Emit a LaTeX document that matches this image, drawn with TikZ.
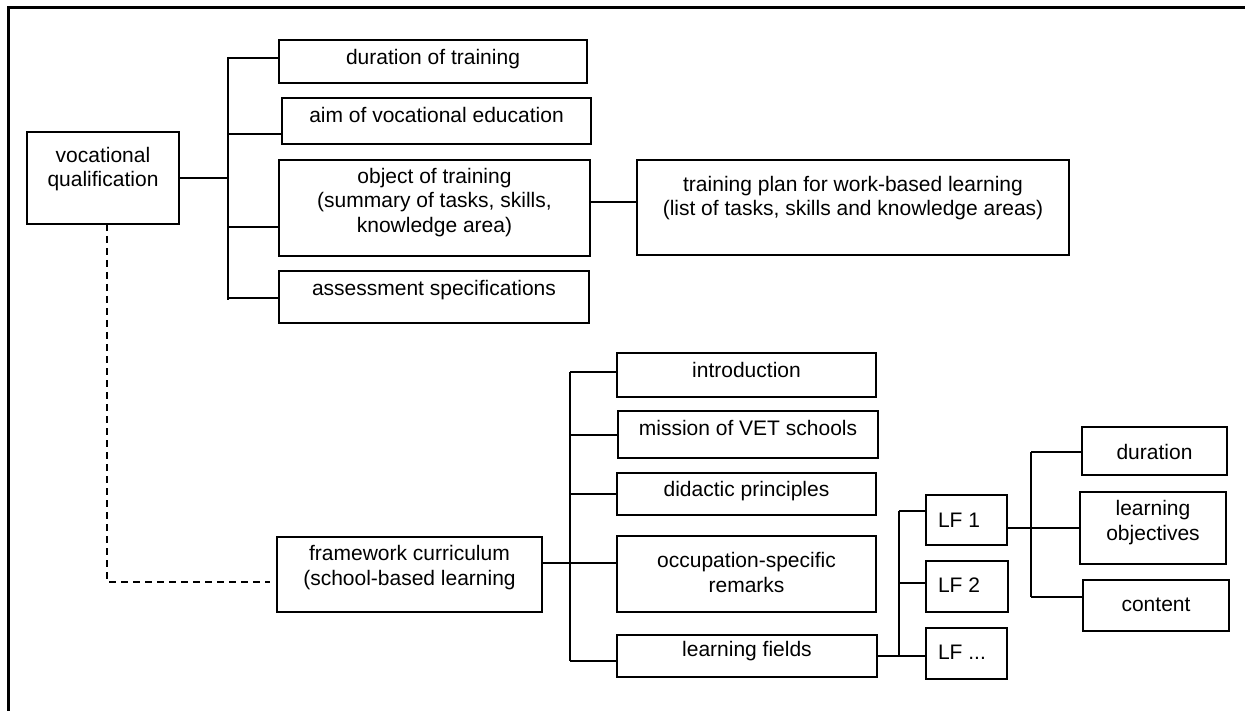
\documentclass[tikz,border=0pt]{standalone}
\usepackage{fontspec}
\setmainfont{Liberation Sans}
\tikzset{
  bx/.style={draw, line width=2.1pt, inner sep=0pt, outer sep=0pt},
  conn/.style={line width=2.1pt},
  frameline/.style={line width=3pt},
  dashedconn/.style={line width=2.1pt, dash pattern=on 7pt off 5pt},
}
\newcommand{\cbox}[4]{\parbox[c][#2pt][t]{#1pt}{\centering\rule{0pt}{#3pt}#4}}
\newcommand{\lbox}[4]{\parbox[c][#2pt][t]{#1pt}{\raggedright\hspace*{12pt}\rule{0pt}{#3pt}#4}}
\begin{document}
\begin{tikzpicture}[x=1pt,y=-1pt, every node/.style={font=\fontsize{21}{24.5}\selectfont}]
\useasboundingbox (0,0) rectangle (1245,711);
% frame
\coordinate (f0) at (8,8);
\coordinate (f1) at (1245,8);
\coordinate (f2) at (8,711);
\draw[frameline] (f1) -- (f0) -- (f2);

% upper part
\node[bx] (vq) at (103,178) {\cbox{152}{92}{30.5}{vocational\\qualification}};
\node[bx] (dot) at (433,61.5) {\cbox{308}{43}{24.5}{duration of training}};
\node[bx] (aim) at (436.5,121) {\cbox{309}{46}{24.5}{aim of vocational education}};
\node[bx] (obj) at (434.5,208) {\cbox{311}{96}{23.5}{object of training\\(summary of tasks, skills,\\knowledge area)}};
\node[bx] (ass) at (434,297) {\cbox{310}{52}{24.5}{assessment specifications}};
\node[bx] (plan) at (853,207.5) {\cbox{432}{95}{31.5}{training plan for work-based learning\\(list of tasks, skills and knowledge areas)}};

\coordinate (b1t) at (228,57);
\coordinate (b1b) at (228,300);
\draw[conn] (b1t) -- (b1b);
\draw[conn] (vq.east) -- (vq.east -| b1t);
\coordinate (j1) at (228,58);  \draw[conn] (j1) -- (j1 -| dot.west);
\coordinate (j2) at (228,134); \draw[conn] (j2) -- (j2 -| aim.west);
\coordinate (j3) at (228,227); \draw[conn] (j3) -- (j3 -| obj.west);
\coordinate (j4) at (228,298); \draw[conn] (j4) -- (j4 -| ass.west);
\coordinate (j5) at (600,202); \draw[conn] (j5 -| obj.east) -- (j5 -| plan.west);

% lower part
\node[bx] (fc) at (409.5,574.5) {\cbox{265}{75}{23.5}{framework curriculum\\(school-based learning}};
\node[bx] (intro) at (746.5,375) {\cbox{259}{44}{24.5}{introduction}};
\node[bx] (miss) at (748,434.5) {\cbox{260}{47}{24.5}{mission of VET schools}};
\node[bx] (did) at (746.5,494) {\cbox{259}{42}{23.5}{didactic principles}};
\node[bx] (occ) at (746.5,574) {\cbox{259}{76}{31.5}{occupation-specific\\remarks}};
\node[bx] (lfd) at (747,656) {\cbox{260}{42}{21.5}{learning fields}};

\coordinate (dk) at (107,582);
\draw[dashedconn] (vq.south -| dk) -- (dk) -- ([xshift=-7pt]fc.west |- dk);

\coordinate (b2t) at (570,372);
\coordinate (b2b) at (570,661);
\draw[conn] (b2t) -- (b2b);
\coordinate (k1) at (570,372); \draw[conn] (k1) -- (k1 -| intro.west);
\coordinate (k2) at (570,435); \draw[conn] (k2) -- (k2 -| miss.west);
\coordinate (k3) at (570,494); \draw[conn] (k3) -- (k3 -| did.west);
\coordinate (k4) at (570,563); \draw[conn] (k4 -| fc.east) -- (k4 -| occ.west);
\coordinate (k5) at (570,661); \draw[conn] (k5) -- (k5 -| lfd.west);

% learning fields
\node[bx] (lf1) at (966.5,520) {\lbox{81}{50}{32.5}{LF 1}};
\node[bx] (lf2) at (967,586.5) {\lbox{82}{51}{31.5}{LF 2}};
\node[bx] (lfx) at (966.5,653.5) {\lbox{81}{51}{31.5}{LF ...}};

\coordinate (b3t) at (899,511);
\coordinate (b3b) at (899,656);
\draw[conn] (b3t) -- (b3b);
\draw[conn] (b3t) -- (b3t -| lf1.west);
\coordinate (m2) at (899,583); \draw[conn] (m2) -- (m2 -| lf2.west);
\draw[conn] (b3b -| lfd.east) -- (b3b -| lfx.west);

% LF 1 details
\node[bx] (dur) at (1154.5,451) {\cbox{145}{48}{32.5}{duration}};
\node[bx] (lobj) at (1153,528) {\cbox{146}{72}{23.5}{learning\\objectives}};
\node[bx] (cont) at (1156,605.5) {\cbox{146}{51}{31.5}{content}};

\coordinate (b4t) at (1031,452);
\coordinate (b4b) at (1031,597);
\draw[conn] (b4t) -- (b4b);
\draw[conn] (b4t) -- (b4t -| dur.west);
\coordinate (n2) at (1031,528); \draw[conn] (n2 -| lf1.east) -- (n2 -| lobj.west);
\draw[conn] (b4b) -- (b4b -| cont.west);
\end{tikzpicture}
\end{document}
